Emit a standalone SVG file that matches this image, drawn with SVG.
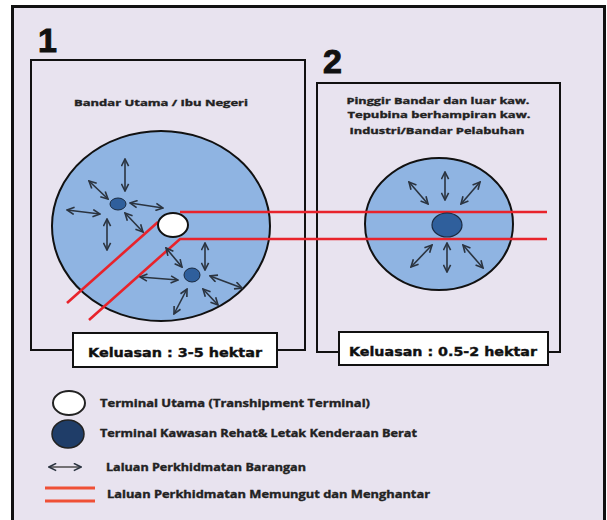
<svg xmlns="http://www.w3.org/2000/svg" width="607" height="520" viewBox="0 0 607 520">
<defs>
<marker id="ah" viewBox="0 0 10 10" refX="9" refY="5" markerWidth="9" markerHeight="9" markerUnits="userSpaceOnUse" orient="auto-start-reverse">
<path d="M1,1 L9,5 L1,9" fill="none" stroke="#2b3440" stroke-width="1.8"/>
</marker>
</defs>
<style>
.frame{fill:none;stroke:#111;stroke-width:2}
.zone{fill:#8fb4e2;stroke:#111;stroke-width:2}
.arr{stroke:#2b3440;stroke-width:1.6;fill:none;marker-start:url(#ah);marker-end:url(#ah)}
.red{stroke:#e8232b;stroke-width:2.6;fill:none}
.num{font-family:"Liberation Sans",Arial,sans-serif;font-weight:bold;font-size:34px;fill:#111;stroke:#111;stroke-width:1}
.lbl{font-family:"Open Sans","Liberation Sans",sans-serif;font-weight:bold;font-size:9px;fill:#222;stroke:#222;stroke-width:0.35}
.kel{font-family:"DejaVu Sans","Liberation Sans",sans-serif;font-weight:bold;font-size:13px;fill:#111;stroke:#111;stroke-width:0.4}
.leg{font-family:"Open Sans","Liberation Sans",sans-serif;font-weight:bold;font-size:10px;fill:#222;stroke:#222;stroke-width:0.35}
</style>
<rect x="0" y="0" width="607" height="520" fill="#ffffff"/>
<rect x="12.5" y="6.5" width="592" height="530" fill="#e8e3ef" stroke="#111" stroke-width="3"/>

<g id="zone1">
<text class="num" x="38" y="52">1</text>
<rect class="frame" x="31" y="60" width="274" height="290"/>
<text class="lbl" x="161" y="106" text-anchor="middle" textLength="174" lengthAdjust="spacingAndGlyphs">Bandar Utama / Ibu Negeri</text>
<ellipse class="zone" cx="161" cy="226" rx="109" ry="95"/>
</g>

<g id="zone2">
<text class="num" x="323" y="73">2</text>
<rect class="frame" x="317" y="83" width="243" height="269"/>
<text class="lbl" x="438" y="104" text-anchor="middle" textLength="183" lengthAdjust="spacingAndGlyphs">Pinggir Bandar dan luar kaw.</text>
<text class="lbl" x="439" y="118" text-anchor="middle" textLength="183" lengthAdjust="spacingAndGlyphs">Tepubina berhampiran kaw.</text>
<text class="lbl" x="437" y="134" text-anchor="middle" textLength="175" lengthAdjust="spacingAndGlyphs">Industri/Bandar Pelabuhan</text>
<ellipse class="zone" cx="439" cy="224" rx="74" ry="66"/>
</g>

<g id="connectors">
<path class="red" d="M67,303 L158,222"/>
<path class="red" d="M89,320 L180,239 L547,239"/>
<path class="red" d="M180,212 L547,212"/>
<line class="arr" x1="125" y1="159" x2="125" y2="191"/>
<line class="arr" x1="89" y1="181" x2="108" y2="199"/>
<line class="arr" x1="67" y1="210" x2="100" y2="214"/>
<line class="arr" x1="107" y1="219" x2="107" y2="250"/>
<line class="arr" x1="130" y1="203" x2="163" y2="208"/>
<line class="arr" x1="125" y1="213" x2="143" y2="232"/>
<line class="arr" x1="166" y1="248" x2="182" y2="267"/>
<line class="arr" x1="205" y1="243" x2="205" y2="270"/>
<line class="arr" x1="140" y1="277" x2="178" y2="280"/>
<line class="arr" x1="210" y1="276" x2="242" y2="288"/>
<line class="arr" x1="187" y1="289" x2="174" y2="314"/>
<line class="arr" x1="203" y1="289" x2="218" y2="305"/>
<line class="arr" x1="409" y1="182" x2="428" y2="204"/>
<line class="arr" x1="445" y1="172" x2="445" y2="200"/>
<line class="arr" x1="480" y1="182" x2="461" y2="204"/>
<line class="arr" x1="432" y1="245" x2="411" y2="267"/>
<line class="arr" x1="447" y1="243" x2="447" y2="272"/>
<line class="arr" x1="463" y1="245" x2="483" y2="268"/>
</g>

<g id="main-terminal">
<ellipse cx="173" cy="225" rx="15" ry="12" fill="#ffffff" stroke="#111" stroke-width="2"/>
</g>
<g id="rest-terminal-1">
<ellipse cx="118" cy="204" rx="8" ry="6" fill="#2f5f9c" stroke="#1a2a40" stroke-width="1"/>
</g>
<g id="rest-terminal-2">
<ellipse cx="192" cy="275" rx="8" ry="7" fill="#2f5f9c" stroke="#1a2a40" stroke-width="1"/>
</g>
<g id="rest-terminal-3">
<ellipse cx="447" cy="225" rx="15" ry="12" fill="#2f5f9c" stroke="#1a2a40" stroke-width="1.2"/>
</g>

<g id="area1">
<rect x="73" y="333" width="204" height="34" fill="#ffffff" stroke="#111" stroke-width="2"/>
<text class="kel" x="175" y="357" text-anchor="middle" textLength="174" lengthAdjust="spacingAndGlyphs">Keluasan : 3-5 hektar</text>
</g>
<g id="area2">
<rect x="339" y="332" width="209" height="33" fill="#ffffff" stroke="#111" stroke-width="2"/>
<text class="kel" x="443" y="356" text-anchor="middle" textLength="188" lengthAdjust="spacingAndGlyphs">Keluasan : 0.5-2 hektar</text>
</g>

<g id="legend">
<ellipse cx="69" cy="403" rx="16" ry="12" fill="#ffffff" stroke="#222" stroke-width="2"/>
<text class="leg" x="100" y="407" textLength="270" lengthAdjust="spacingAndGlyphs">Terminal Utama (Transhipment Terminal)</text>
<ellipse cx="68" cy="434" rx="16" ry="14" fill="#1f3d68" stroke="#222" stroke-width="1.5"/>
<text class="leg" x="100" y="437" textLength="317" lengthAdjust="spacingAndGlyphs">Terminal Kawasan Rehat&amp; Letak Kenderaan Berat</text>
<line class="arr" x1="49" y1="467" x2="81" y2="467" style="stroke:#555"/>
<text class="leg" x="106" y="471" textLength="200" lengthAdjust="spacingAndGlyphs">Laluan Perkhidmatan Barangan</text>
<line x1="45" y1="488" x2="95" y2="488" stroke="#ef5036" stroke-width="3"/>
<line x1="45" y1="501" x2="95" y2="501" stroke="#ef5036" stroke-width="3"/>
<text class="leg" x="107" y="498" textLength="323" lengthAdjust="spacingAndGlyphs">Laluan Perkhidmatan Memungut dan Menghantar</text>
</g>
</svg>
